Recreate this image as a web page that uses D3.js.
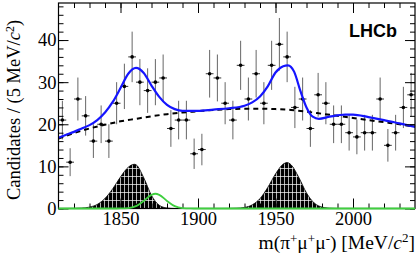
<!DOCTYPE html>
<html>
<head>
<meta charset="utf-8">
<script src="https://cdn.jsdelivr.net/npm/d3@7"></script>
<style>
	body { margin: 0; background: #fff; }
	svg { display: block; }
</style>
</head>
<body>
<svg id="chart" width="419" height="261"></svg>
<script>
// bin centres (5 MeV bins) and candidate counts
const binCentres = d3.range(1812.5, 2040, 5);
const counts = [
	21, 11, 26, 22, 16, 20, 16, 25, 29, 36,
	30, 28, 30, 31, 19, 21, 21, 13, 14, 32,
	31, 25, 21, 34, 26, 32, 25, 34, 39, 36,
	24, 26, 19, 27, 25, 20, 20, 18, 17, 18,
	18, 26, 15, 18, 24, 27
];

// curves: [mass, value]
const totalFit = [
	[1810, 16.8], [1815, 17.5], [1820, 18.2], [1825, 19.0], [1830, 19.8],
	[1835, 21.0], [1840, 22.8], [1845, 25.3], [1850, 28.6], [1855, 32.0],
	[1860, 33.4], [1865, 32.2], [1870, 29.2], [1875, 26.5], [1880, 24.6],
	[1885, 23.6], [1890, 23.2], [1900, 23.2], [1910, 23.5], [1920, 23.8],
	[1930, 24.4], [1935, 25.2], [1940, 26.6], [1945, 29.0], [1950, 32.3],
	[1955, 33.8], [1958, 34.0], [1962, 32.5], [1966, 28.0], [1970, 24.0],
	[1974, 21.8], [1978, 21.3], [1985, 21.8], [1995, 22.3], [2000, 22.3],
	[2010, 21.7], [2020, 21.0], [2030, 20.2], [2040, 19.4]
];
const background = [
	[1810, 16.6], [1820, 17.9], [1830, 19.0], [1840, 19.9], [1850, 20.7],
	[1860, 21.3], [1870, 21.9], [1880, 22.4], [1890, 22.8], [1900, 23.1],
	[1910, 23.4], [1920, 23.6], [1930, 23.7], [1940, 23.7], [1950, 23.6],
	[1960, 23.4], [1970, 23.0], [1980, 22.5], [1990, 22.0], [2000, 21.5],
	[2010, 21.0], [2020, 20.5], [2030, 20.0], [2040, 19.4]
];
const peakOne = [
	[1810, 0], [1820, 0.02], [1825, 0.09], [1830, 0.33], [1835, 0.97],
	[1840, 2.4], [1845, 4.7], [1850, 7.5], [1855, 9.8], [1859, 10.5],
	[1860, 10.4], [1865, 7.3], [1870, 3.1], [1875, 0.77], [1880, 0.12],
	[1885, 0], [1890, 0]
];
const peakTwo = [
	[1915, 0], [1920, 0.01], [1925, 0.06], [1930, 0.25], [1935, 0.87],
	[1940, 2.35], [1945, 5.0], [1950, 8.2], [1955, 10.55], [1957.5, 10.9],
	[1960, 10.4], [1965, 7.4], [1970, 3.7], [1975, 1.3], [1980, 0.33],
	[1985, 0.06], [1990, 0], [1995, 0]
];
const greenPeak = [
	[1810, 0], [1845, 0], [1850, 0.01], [1855, 0.09], [1860, 0.55],
	[1865, 1.8], [1870, 3.25], [1872.5, 3.5], [1875, 3.25], [1880, 1.8],
	[1885, 0.55], [1890, 0.09], [1895, 0.01], [1900, 0], [2040, 0]
];

const xMajor = [1850, 1900, 1950, 2000];
const xMinor = d3.range(1820, 2040, 10);
const yMajor = [0, 10, 20, 30, 40];
const yMinor = d3.range(0, 49, 2);

const svg = d3.select('#chart');
const pLeft = 58.5, pRight = 415, pTop = 3, pBottom = 208.5;

const x = d3.scaleLinear().domain([1810, 2040]).range([pLeft, pRight]);
const y = d3.scaleLinear().domain([0, 48.8]).range([pBottom, pTop]);

// hatch pattern for the black peaks
const defs = svg.append('defs');
const pat = defs
	.append('pattern')
	.attr('id', 'hatch')
	.attr('patternUnits', 'userSpaceOnUse')
	.attr('width', 4)
	.attr('height', 8);
pat.append('rect').attr('width', 4).attr('height', 8).attr('fill', '#000');
pat.append('line')
	.attr('x1', 0.5).attr('x2', 0.5).attr('y1', 0).attr('y2', 8)
	.attr('stroke', '#fff').attr('stroke-width', 0.7);
pat.append('line')
	.attr('x1', 0).attr('x2', 4).attr('y1', 0.5).attr('y2', 0.5)
	.attr('stroke', '#fff').attr('stroke-width', 0.7);

const area = d3
	.area()
	.x(d => x(d[0]))
	.y0(y(0))
	.y1(d => y(d[1]))
	.curve(d3.curveMonotoneX);

const line = d3
	.line()
	.x(d => x(d[0]))
	.y(d => y(d[1]))
	.curve(d3.curveMonotoneX);

[peakOne, peakTwo].forEach(p => {
	svg.append('path')
		.attr('d', area(p))
		.attr('fill', 'url(#hatch)')
		.attr('stroke', '#000')
		.attr('stroke-width', 0.8);
});

// data points with error bars
const points = svg
	.append('g')
	.selectAll('g')
	.data(binCentres.map((m, i) => ({ m, n: counts[i] })))
	.enter()
	.append('g');

points.append('line')
	.attr('x1', d => x(d.m)).attr('x2', d => x(d.m))
	.attr('y1', d => y(d.n - Math.sqrt(d.n)))
	.attr('y2', d => y(d.n + Math.sqrt(d.n)))
	.attr('stroke', '#666')
	.attr('stroke-width', 1);

points.append('line')
	.attr('x1', d => x(d.m - 2.5)).attr('x2', d => x(d.m + 2.5))
	.attr('y1', d => y(d.n)).attr('y2', d => y(d.n))
	.attr('stroke', '#333')
	.attr('stroke-width', 1);

points.append('circle')
	.attr('cx', d => x(d.m))
	.attr('cy', d => y(d.n))
	.attr('r', 1.8)
	.attr('fill', '#000');

svg.append('path')
	.attr('d', line(background))
	.attr('fill', 'none')
	.attr('stroke', '#000')
	.attr('stroke-width', 2)
	.attr('stroke-dasharray', '5,4');

svg.append('path')
	.attr('d', line(totalFit))
	.attr('fill', 'none')
	.attr('stroke', '#1515ff')
	.attr('stroke-width', 2.2);

// axes, ticks pointing inward
const serif = 'Liberation Serif, Times New Roman, serif';
const tickFont = g => g
	.attr('font-family', serif)
	.attr('font-size', 18.5)
	.call(s => s.select('.domain').remove());

svg.append('g')
	.attr('transform', `translate(${pLeft},0)`)
	.call(d3.axisLeft(y).tickValues(yMinor).tickSize(-5).tickFormat(''))
	.call(tickFont);
svg.append('g')
	.attr('transform', `translate(${pLeft},0)`)
	.call(d3.axisLeft(y).tickValues(yMajor).tickSize(-10).tickPadding(2).tickFormat(d3.format('d')))
	.call(tickFont);

svg.append('g')
	.attr('transform', `translate(${pRight},0)`)
	.call(d3.axisRight(y).tickValues(yMinor).tickSize(-5).tickFormat(''))
	.call(tickFont);
svg.append('g')
	.attr('transform', `translate(${pRight},0)`)
	.call(d3.axisRight(y).tickValues(yMajor).tickSize(-10).tickFormat(''))
	.call(tickFont);

svg.append('g')
	.attr('transform', `translate(0,${pBottom})`)
	.call(d3.axisBottom(x).tickValues(xMinor).tickSize(-5).tickFormat(''))
	.call(tickFont);
svg.append('g')
	.attr('transform', `translate(0,${pBottom})`)
	.call(d3.axisBottom(x).tickValues(xMajor).tickSize(-10).tickPadding(3).tickFormat(d3.format('d')))
	.call(tickFont);

svg.append('g')
	.attr('transform', `translate(0,${pTop})`)
	.call(d3.axisTop(x).tickValues(xMinor).tickSize(-5).tickFormat(''))
	.call(tickFont);
svg.append('g')
	.attr('transform', `translate(0,${pTop})`)
	.call(d3.axisTop(x).tickValues(xMajor).tickSize(-10).tickFormat(''))
	.call(tickFont);

svg.selectAll('.tick line').attr('stroke', '#000');
svg.selectAll('.tick text').attr('fill', '#000');

svg.append('rect')
	.attr('x', pLeft).attr('y', pTop)
	.attr('width', pRight - pLeft).attr('height', pBottom - pTop)
	.attr('fill', 'none')
	.attr('stroke', '#000')
	.attr('stroke-width', 1.2);

// green component, drawn over the baseline
svg.append('path')
	.attr('d', line(greenPeak))
	.attr('fill', 'none')
	.attr('stroke', '#3fcf3f')
	.attr('stroke-width', 1.8);

// titles
const yTitle = svg.append('text')
	.attr('transform', `translate(20,110) rotate(-90)`)
	.attr('text-anchor', 'middle')
	.attr('font-family', serif)
	.attr('font-size', 18.5);
yTitle.append('tspan').text('Candidates / (5 MeV/');
yTitle.append('tspan').attr('font-style', 'italic').text('c');
yTitle.append('tspan').attr('font-size', 12).attr('dy', -6).text('2');
yTitle.append('tspan').attr('dy', 6).text(')');

const xTitle = svg.append('text')
	.attr('x', pRight)
	.attr('y', 249)
	.attr('text-anchor', 'end')
	.attr('font-family', serif)
	.attr('font-size', 19.5);
xTitle.append('tspan').text('m(π');
xTitle.append('tspan').attr('font-size', 13).attr('dy', -6).text('+');
xTitle.append('tspan').attr('dy', 6).text('μ');
xTitle.append('tspan').attr('font-size', 13).attr('dy', -6).text('+');
xTitle.append('tspan').attr('dy', 6).text('μ');
xTitle.append('tspan').attr('font-size', 13).attr('dy', -6).text('-');
xTitle.append('tspan').attr('dy', 6).text(') [MeV/');
xTitle.append('tspan').attr('font-style', 'italic').text('c');
xTitle.append('tspan').attr('font-size', 13).attr('dy', -7).text('2');
xTitle.append('tspan').attr('dy', 7).text(']');

svg.append('text')
	.attr('x', 397)
	.attr('y', 37)
	.attr('text-anchor', 'end')
	.attr('font-family', 'Liberation Sans, Arial, sans-serif')
	.attr('font-weight', 'bold')
	.attr('font-size', 18)
	.text('LHCb');
</script>
</body>
</html>
